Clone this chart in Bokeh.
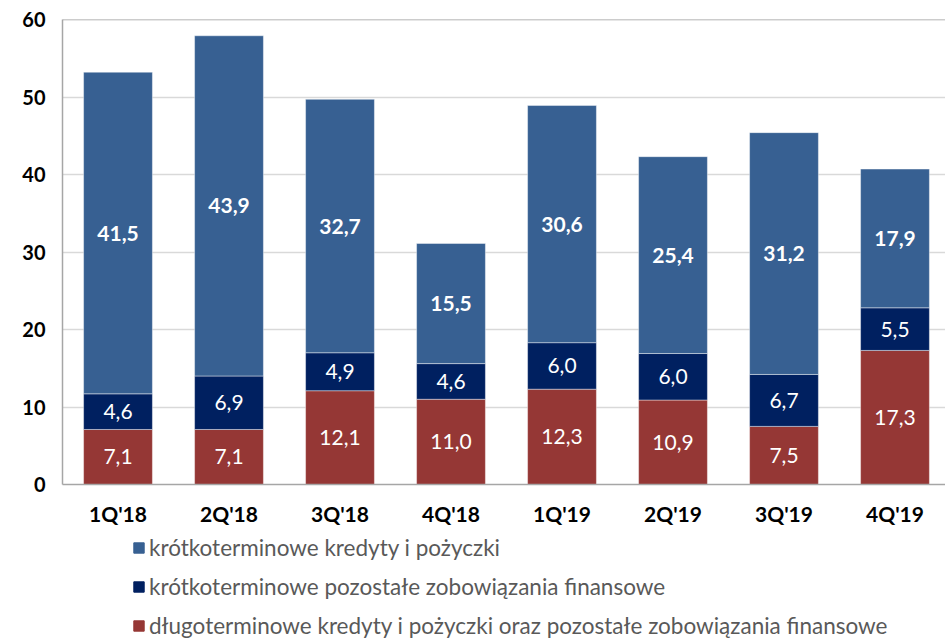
from bokeh.plotting import figure
from bokeh.layouts import column
from bokeh.models import (ColumnDataSource, FixedTicker, Span, Legend, LegendItem, Range1d)
from bokeh.core.properties import value
from bokeh.embed import file_html
from bokeh.resources import INLINE

categories = ["1Q'18", "2Q'18", "3Q'18", "4Q'18", "1Q'19", "2Q'19", "3Q'19", "4Q'19"]
dlugo = [7.1, 7.1, 12.1, 11.0, 12.3, 10.9, 7.5, 17.3]
krotko_pozostale = [4.6, 6.9, 4.9, 4.6, 6.0, 6.0, 6.7, 5.5]
krotko_kredyty = [41.5, 43.9, 32.7, 15.5, 30.6, 25.4, 31.2, 17.9]
series_names = [
    "krótkoterminowe kredyty i pożyczki",
    "krótkoterminowe pozostałe zobowiązania finansowe",
    "długoterminowe kredyty i pożyczki oraz pozostałe zobowiązania finansowe",
]
y_ticks = [0, 10, 20, 30, 40, 50, 60]

C_BLUE = "#376092"
C_NAVY = "#002060"
C_RED = "#953735"
FONT = "Lato"

xs = [i + 0.5 for i in range(len(categories))]
src = ColumnDataSource(dict(x=xs, cat=categories, d=dlugo, kp=krotko_pozostale, kk=krotko_kredyty))

p = figure(width=945, height=534, output_backend="svg", toolbar_location=None,
           x_range=Range1d(0, 7.955), y_range=Range1d(0, 60),
           min_border_left=62, min_border_right=0, min_border_top=19, min_border_bottom=50)
p.outline_line_color = None
p.background_fill_color = "white"

rs = p.vbar_stack(["d", "kp", "kk"], x="x", width=0.62, source=src,
                  color=[C_RED, C_NAVY, C_BLUE], line_color="white", line_width=0.6, line_alpha=0.7)

# labels
lab_x, lab_y, lab_t = [], [], []
for i in range(len(categories)):
    b0 = 0.0
    for arr in (dlugo, krotko_pozostale):
        lab_x.append(xs[i]); lab_y.append(b0 + arr[i] / 2); lab_t.append(f"{arr[i]:.1f}".replace(".", ","))
        b0 += arr[i]
norm = ColumnDataSource(dict(x=lab_x, y=lab_y, t=lab_t))
p.text(x="x", y="y", text="t", source=norm, text_color="white", text_font=value(FONT),
       text_font_size="21px", text_align="center", text_baseline="middle")
top_y = [dlugo[i] + krotko_pozostale[i] + krotko_kredyty[i] / 2 for i in range(len(categories))]
top_t = [f"{v:.1f}".replace(".", ",") for v in krotko_kredyty]
bold = ColumnDataSource(dict(x=xs, y=top_y, t=top_t))
p.text(x="x", y="y", text="t", source=bold, text_color="white", text_font=value(FONT),
       text_font_size="21px", text_font_style="bold", text_align="center", text_baseline="middle")

# axes
p.xaxis.ticker = FixedTicker(ticks=xs)
p.xaxis.major_label_overrides = {x: c for x, c in zip(xs, categories)}
p.yaxis.ticker = FixedTicker(ticks=y_ticks)
for ax in (p.xaxis[0], p.yaxis[0]):
    ax.axis_line_color = "#a6a6a6"
    ax.axis_line_width = 1.5
    ax.major_tick_line_color = None
    ax.minor_tick_line_color = None
    ax.major_label_text_font = FONT
    ax.major_label_text_font_style = "bold"
    ax.major_label_text_color = "black"
p.xaxis.major_label_text_font_size = "21px"
p.yaxis.major_label_text_font_size = "20px"
p.xaxis.major_label_standoff = 10
p.yaxis.major_label_standoff = 11

p.xgrid.grid_line_color = None
p.ygrid.grid_line_color = "#d9d9d9"
p.ygrid.grid_line_width = 1.5
p.add_layout(Span(location=60, dimension="width", line_color="#9a9a9a", line_width=1.5))

# legend panel
lg = figure(width=945, height=105, output_backend="svg", toolbar_location=None,
            x_range=Range1d(0, 1), y_range=Range1d(0, 1), min_border=0,
            x_axis_location=None, y_axis_location=None)
lg.outline_line_color = None
lg.grid.visible = False
colors = [C_BLUE, C_NAVY, C_RED]
items = []
for name, c in zip(series_names, colors):
    r = lg.vbar(x=[-5], top=[-5], bottom=[-6], width=0.5, color=c)
    items.append(LegendItem(label=name, renderers=[r]))
legend = Legend(items=items, orientation="vertical", location=(70, 0),
                glyph_width=13, glyph_height=13, spacing=12, label_text_font=FONT,
                label_text_font_size="22.5px", label_text_color="#595959",
                label_standoff=4, border_line_color=None, background_fill_alpha=0,
                padding=0, margin=0)
legend.label_height = 22
lg.add_layout(legend, "center")

layout = column(p, lg, spacing=0)
open("out.html", "w").write(file_html(layout, INLINE))
